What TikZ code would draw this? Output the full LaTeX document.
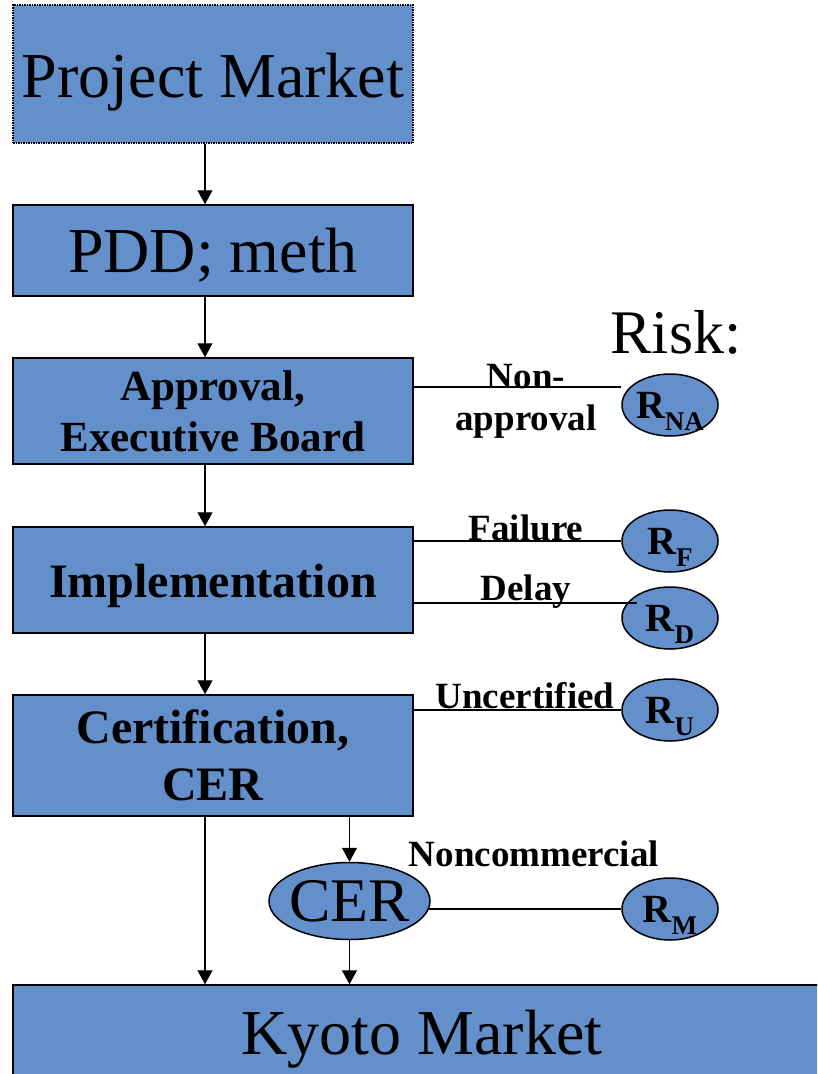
\documentclass[tikz,border=0pt]{standalone}
\usepackage{fontspec}
\setmainfont{Liberation Serif}
\usetikzlibrary{shapes.geometric,arrows.meta}
\definecolor{boxblue}{RGB}{99,143,203}
\newcommand{\rsub}[1]{\raisebox{-12pt}{\fontsize{27}{30}\selectfont #1}}
\tikzset{
  box/.style={draw=black, line width=1.5pt, fill=boxblue, minimum width=400pt, inner sep=0pt, align=center},
  big/.style={font=\fontsize{64}{70}\selectfont, text height=42pt, text depth=0pt},
  boldA/.style={font=\bfseries\fontsize{43}{51}\selectfont},
  boldB/.style={font=\bfseries\fontsize{48}{57}\selectfont},
  risk/.style={ellipse, draw=black, line width=1.5pt, fill=boxblue, minimum width=96pt, minimum height=62pt, inner sep=0pt, text depth=0pt, font=\bfseries\fontsize{40}{44}\selectfont},
  lbl/.style={font=\bfseries\fontsize{37}{42}\selectfont, inner sep=0pt, anchor=base},
  arr/.style={-{Triangle[length=14pt,width=15pt]}, line width=1.3pt},
  conn/.style={line width=1.3pt},
}
\begin{document}
\begin{tikzpicture}[x=1pt,y=-1pt]
\clip (0,0) rectangle (817,1074);
\fill[white] (0,0) rectangle (817,1074);
% main boxes
\node[box, big, minimum height=138pt, draw=black, densely dotted, text height=47pt] (pm) at (213,74) {Project Market};
\node[box, big, minimum height=91pt, text height=44pt] (pdd) at (213,250.5) {PDD; meth};
\node[box, boldA, minimum height=106pt] (appr) at (213,411) {Approval,\\Executive Board};
\node[box, boldB, minimum height=106pt, text height=34pt, text depth=0pt] (impl) at (213,580) {Implementation};
\node[box, boldB, minimum height=121pt] (cert) at (213,755.5) {Certification,\\CER};
\node[ellipse, draw=black, line width=1.5pt, fill=boxblue, minimum width=161pt, minimum height=77pt, inner ysep=0pt, inner xsep=-8pt, font=\fontsize{62}{66}\selectfont, text height=41pt, text depth=0pt] (cer) at (349.5,901) {CER};
\node[box, big, minimum width=818pt, minimum height=97pt] (kyoto) at (422,1033.5) {Kyoto Market};
% risk ellipses
\node[font=\fontsize{62}{66}\selectfont, inner sep=0pt, anchor=base] (risk) at (676,353) {Risk:};
\node[risk] (rna) at (670,405) {R\rsub{NA}};
\node[risk] (rf) at (670,541) {R\rsub{F}};
\node[risk] (rd) at (670,618) {R\rsub{D}};
\node[risk] (ru) at (670,710) {R\rsub{U}};
\node[risk] (rm) at (670,909) {R\rsub{M}};
% arrows
\draw[arr] ([xshift=-8pt]pm.south) -- ([xshift=-8pt]pdd.north);
\draw[arr] ([xshift=-8pt]pdd.south) -- ([xshift=-8pt]appr.north);
\draw[arr] ([xshift=-8pt]appr.south) -- ([xshift=-8pt]impl.north);
\draw[arr] ([xshift=-8pt]impl.south) -- ([xshift=-8pt]cert.north);
\draw[arr] ([xshift=-8pt]cert.south) -- ([xshift=-8pt]cert.south |- kyoto.north);
\draw[arr] (cert.south -| cer.north) -- (cer.north);
\draw[arr] (cer.south) -- (cer.south |- kyoto.north);
% risk connectors
\coordinate (naend) at ([yshift=18pt]rna.west);
\draw[conn] (appr.east |- naend) -- (naend);
\draw[conn] (impl.east |- rf.west) -- (rf.west);
\coordinate (dend) at ([xshift=16pt,yshift=15pt]rd.west);
\draw[conn] (impl.east |- dend) -- (dend);
\draw[conn] (cert.east |- ru.west) -- (ru.west);
\draw[conn] ([xshift=-2pt]cer.east |- rm.west) -- (rm.west);
% labels
\node[lbl] (lnon) at (526,388) {Non-};
\node[lbl] (lappr) at (526,430) {approval};
\node[lbl] (lfail) at (526,540) {Failure};
\node[lbl] (ldelay) at (526,600) {Delay};
\node[lbl] (lunc) at (525,708) {Uncertified};
\node[lbl] (lnonc) at (534,866) {Noncommercial};
\end{tikzpicture}
\end{document}
